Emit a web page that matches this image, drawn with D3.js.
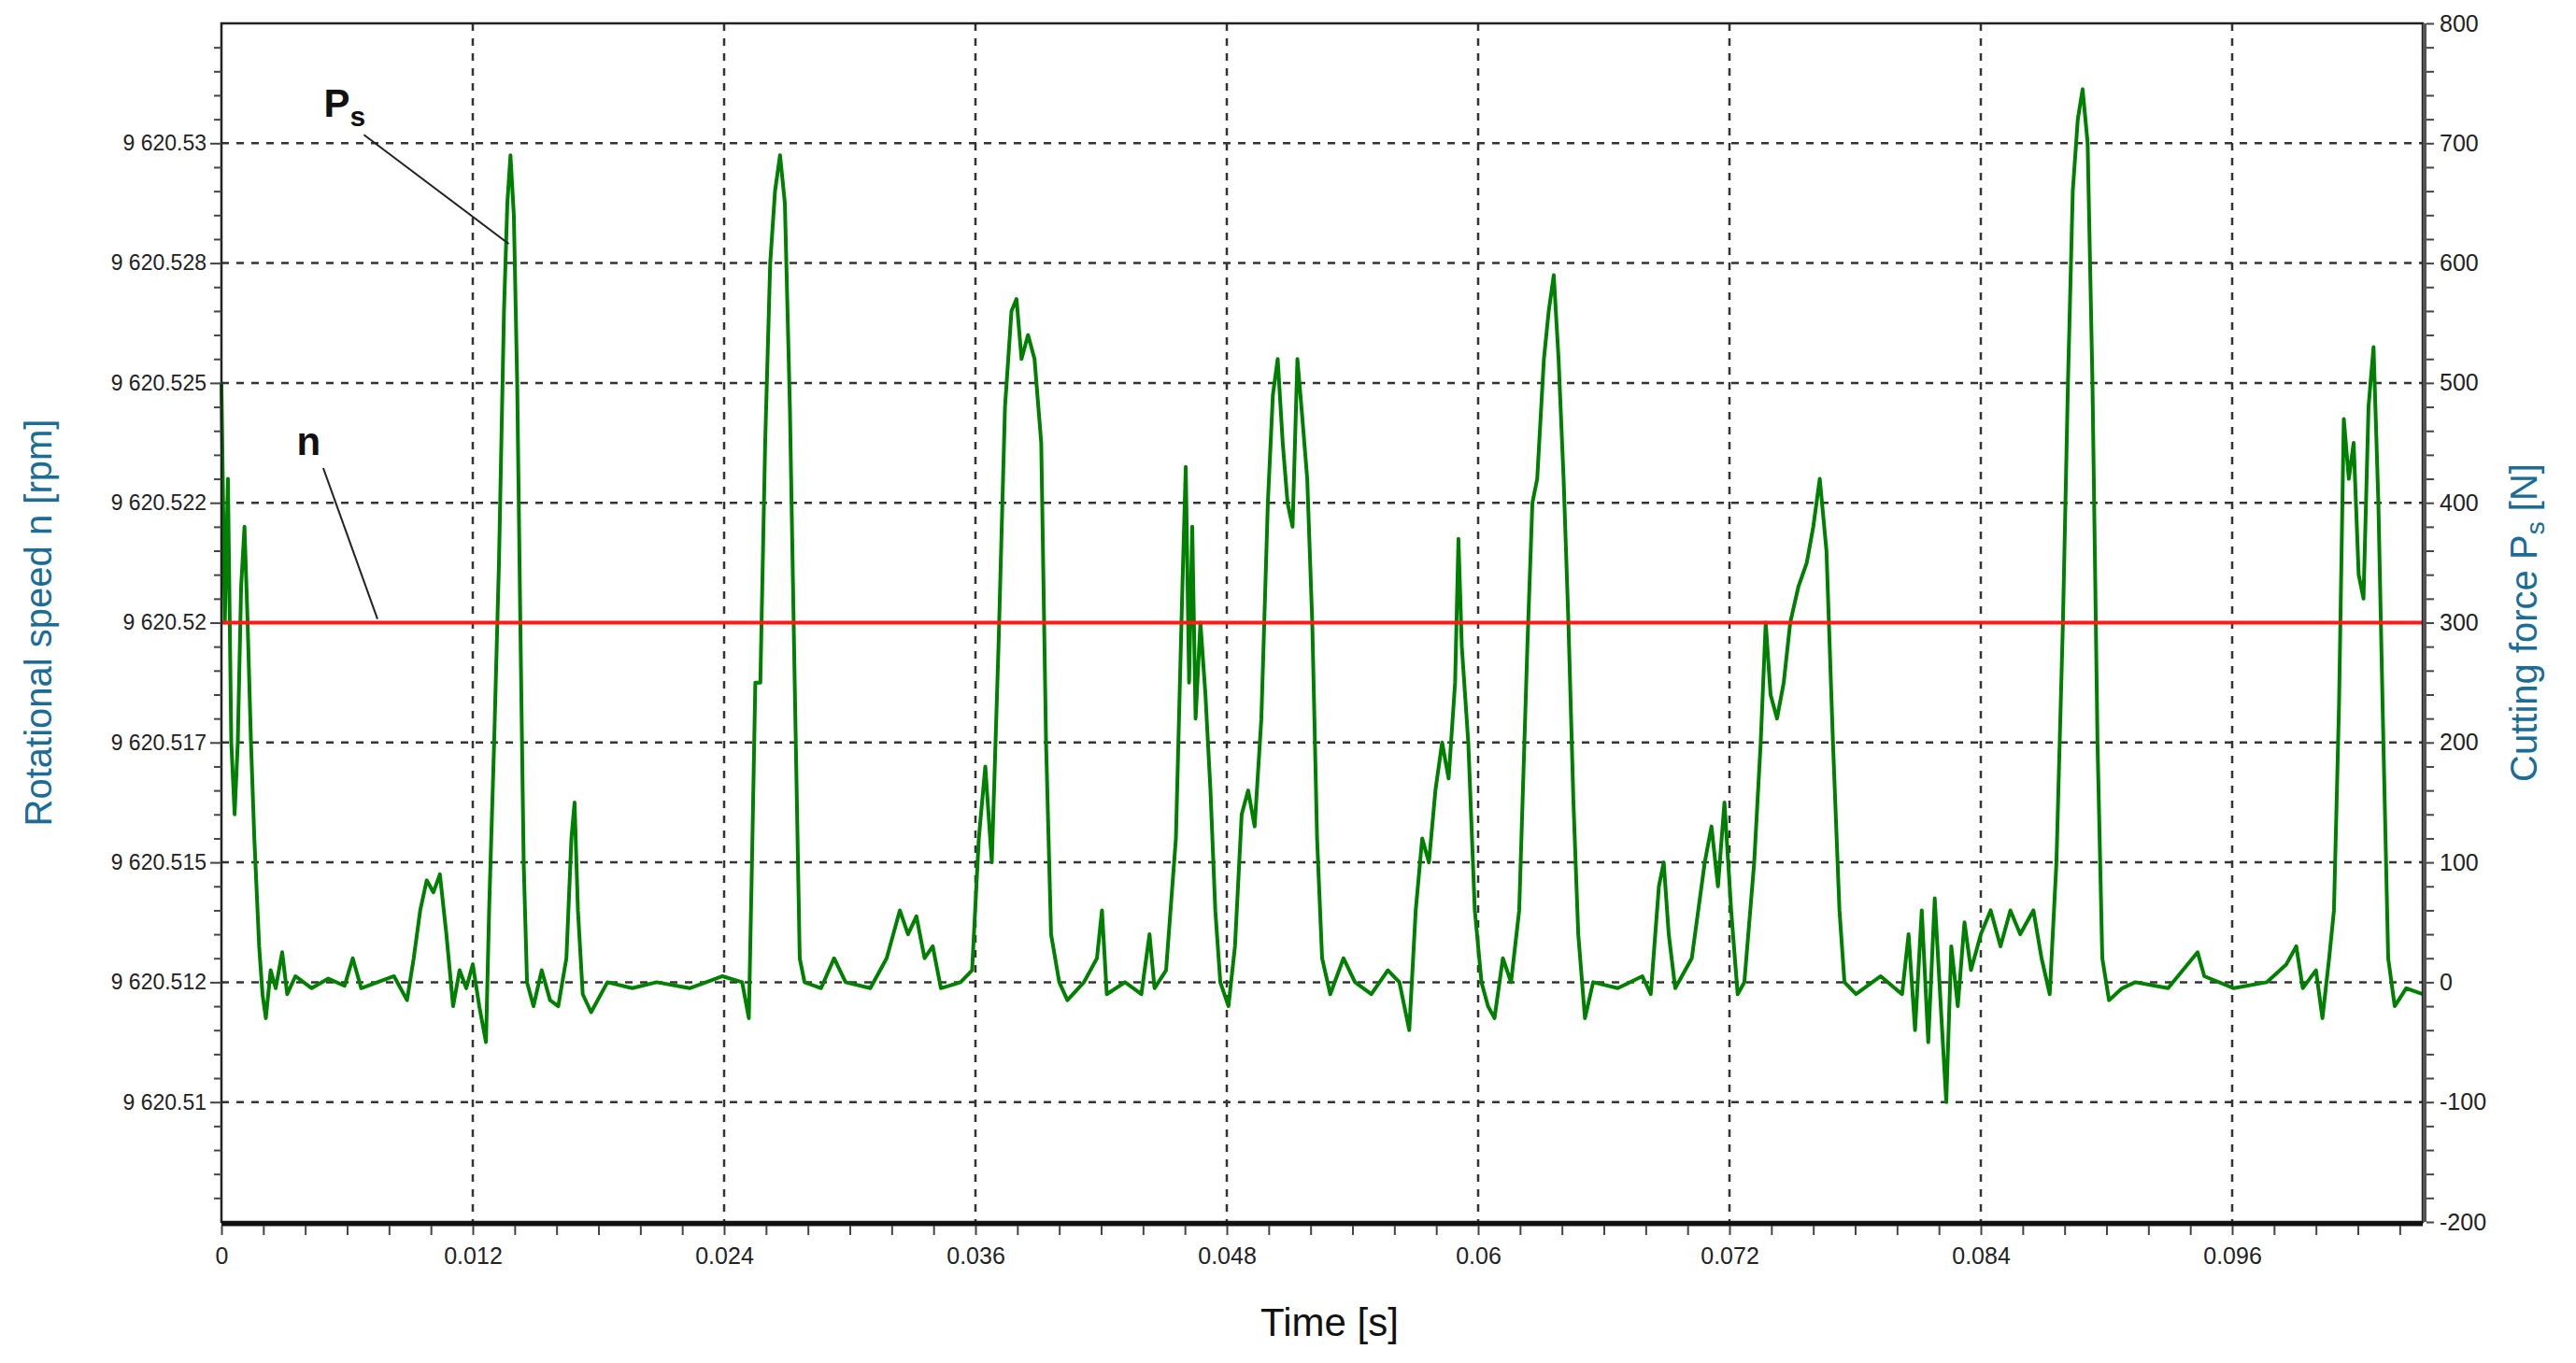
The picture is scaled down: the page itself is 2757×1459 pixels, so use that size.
<!DOCTYPE html>
<html><head><meta charset="utf-8">
<script src="https://cdn.jsdelivr.net/npm/d3@7"></script>
<style>body{margin:0;background:#fff}text{font-family:"Liberation Sans Narrow","Liberation Sans",Arial,sans-serif}</style>
</head><body><svg id="c" width="2757" height="1459"></svg>
<script>
const timeMs=[0,0.16,0.31,0.47,0.63,0.78,0.94,1.10,1.25,1.41,1.57,1.80,1.96,2.12,2.35,2.59,2.90,3.14,3.53,4.31,5.10,5.88,6.27,6.67,7.45,8.24,8.86,9.18,9.49,9.80,10.12,10.43,10.74,11.06,11.37,11.69,12.00,12.31,12.63,12.78,13.02,13.25,13.49,13.65,13.80,13.96,14.12,14.27,14.43,14.59,14.90,15.29,15.69,16.08,16.47,16.71,16.86,17.02,17.25,17.65,18.43,19.61,20.78,22.35,23.92,24.86,25.18,25.33,25.49,25.73,25.96,26.20,26.43,26.67,26.90,27.14,27.37,27.61,27.84,28.63,29.25,29.80,30.98,31.76,32.39,32.78,33.18,33.57,33.96,34.35,35.29,35.84,36.16,36.47,36.78,37.10,37.41,37.72,37.96,38.20,38.51,38.82,39.14,39.37,39.61,40.00,40.39,41.18,41.80,42.04,42.27,43.14,43.92,44.31,44.55,45.10,45.57,45.88,46.04,46.20,46.35,46.51,46.74,46.98,47.22,47.45,47.69,48.08,48.39,48.71,49.02,49.33,49.65,49.96,50.20,50.43,50.67,50.90,51.14,51.37,51.61,51.84,52.08,52.31,52.55,52.94,53.57,54.12,54.90,55.69,56.24,56.71,57.02,57.33,57.65,57.96,58.28,58.59,58.90,59.06,59.22,59.53,59.84,60.16,60.47,60.78,61.18,61.57,61.96,62.35,62.59,62.82,63.14,63.37,63.61,63.84,64.08,64.31,64.55,64.78,65.10,65.49,66.67,67.84,68.24,68.63,68.86,69.10,69.41,70.20,70.82,71.14,71.45,71.76,72.08,72.39,72.71,73.18,73.49,73.73,73.96,74.27,74.59,74.90,75.29,75.69,76.00,76.31,76.63,76.94,77.25,77.49,78.04,79.22,80.24,80.55,80.86,81.18,81.49,81.80,82.12,82.35,82.59,82.90,83.22,83.53,84.00,84.47,84.94,85.41,85.88,86.51,86.90,87.29,87.61,87.92,88.16,88.39,88.63,88.86,89.10,89.33,89.57,89.80,90.12,90.75,91.37,92.94,94.35,94.67,96.08,97.65,98.59,99.06,99.37,100.00,100.31,100.63,100.86,101.10,101.33,101.57,101.80,102.04,102.27,102.51,102.75,102.98,103.22,103.45,103.76,104.31,105.10];
const forceN=[500,300,420,200,140,200,330,380,300,200,120,30,-10,-30,10,-5,25,-10,5,-5,3,-3,20,-5,0,5,-15,20,60,85,75,90,40,-20,10,-5,15,-20,-50,60,200,350,560,650,690,640,500,300,100,0,-20,10,-15,-20,20,120,150,60,-10,-25,0,-5,0,-5,5,0,-30,100,250,250,450,600,660,690,650,480,250,20,0,-5,20,0,-5,20,60,40,55,20,30,-5,0,10,120,180,100,280,480,560,570,520,540,520,450,200,40,0,-15,0,20,60,-10,0,-10,40,-5,10,120,330,430,250,380,220,300,240,160,60,0,-20,30,140,160,130,220,400,490,520,450,400,380,520,470,420,300,120,20,-10,20,0,-10,10,0,-40,60,120,100,160,200,170,250,370,280,200,60,0,-20,-30,20,0,60,280,400,420,520,560,590,520,420,300,150,40,-30,0,-5,5,-10,80,100,40,-5,20,100,130,80,150,60,-10,0,100,200,300,240,220,250,300,330,350,380,420,360,200,60,0,-10,5,-10,40,-40,60,-50,70,-30,-100,30,-20,50,10,40,60,30,60,40,60,20,-10,100,300,500,660,720,745,700,500,200,20,-15,-5,0,-5,25,5,-5,0,15,30,-5,10,-30,20,60,230,470,420,450,340,320,480,530,400,200,20,-20,-5,-10];
const speedLevel=9620.52;
const forceTicks=[-200,-100,0,100,200,300,400,500,600,700,800];
const speedTickForce=[-100,0,100,200,300,400,500,600,700];
const speedTickLabels=["9 620.51","9 620.512","9 620.515","9 620.517","9 620.52","9 620.522","9 620.525","9 620.528","9 620.53"];
const timeTicks=[0,0.012,0.024,0.036,0.048,0.06,0.072,0.084,0.096];

const svg=d3.select("#c");
const L=237,R=2593,T=25,B=1308;
const x=d3.scaleLinear().domain([0,0.1051]).range([L,R]);
const y=d3.scaleLinear().domain([-200,800]).range([B,T]);
// speed axis: 9620.512 <-> 0 N, 9620.52 <-> 300 N
const ySpeed=d3.scaleLinear().domain([9620.512,9620.52]).range([y(0),y(300)]);

const g=svg.append("g");
// grid
g.selectAll(".hg").data(forceTicks.filter(v=>v>-200&&v<800)).join("line")
 .attr("x1",L).attr("x2",R).attr("y1",d=>y(d)).attr("y2",d=>y(d))
 .attr("stroke","#333").attr("stroke-width",2.5).attr("stroke-dasharray","8,8");
g.selectAll(".vg").data(timeTicks.filter(v=>v>0)).join("line")
 .attr("y1",T).attr("y2",B).attr("x1",d=>x(d)).attr("x2",d=>x(d))
 .attr("stroke","#333").attr("stroke-width",2.5).attr("stroke-dasharray","8,8");

// series
const pts=timeMs.map((t,i)=>[t/1000,forceN[i]]);
g.append("path").datum(pts).attr("fill","none").attr("stroke","#008000").attr("stroke-width",4)
 .attr("stroke-linejoin","round")
 .attr("d",d3.line().x(d=>x(d[0])).y(d=>y(d[1])));
g.append("line").attr("x1",L).attr("x2",R).attr("y1",ySpeed(speedLevel)).attr("y2",ySpeed(speedLevel))
 .attr("stroke","#ff1a1a").attr("stroke-width",4);

// frame
g.append("rect").attr("x",L).attr("y",T).attr("width",R-L).attr("height",B-T).attr("fill","none").attr("stroke","#222").attr("stroke-width",2.5);
g.append("line").attr("x1",L).attr("x2",R).attr("y1",B+2).attr("y2",B+2).attr("stroke","#111").attr("stroke-width",5);
g.append("line").attr("x1",R+2).attr("x2",R+2).attr("y1",T).attr("y2",B).attr("stroke","#555").attr("stroke-width",4);

// axes
const fmtIdx=v=>speedTickLabels[speedTickForce.indexOf(v)];
const ax=svg.append("g").attr("transform",`translate(0,${B+4})`).call(
 d3.axisBottom(x).tickValues(d3.range(0,0.1051,0.002)).tickSize(10).tickFormat(v=>{const i=timeTicks.findIndex(t=>Math.abs(t-v)<1e-9);return i>=0?String(timeTicks[i]):"";}));
ax.select(".domain").remove();
ax.selectAll("line").attr("stroke","#444").attr("stroke-width",2);
ax.selectAll("text").attr("font-size",25).attr("fill","#222").attr("dy","1.1em");

const al=svg.append("g").attr("transform",`translate(${L},0)`).call(
 d3.axisLeft(y).tickValues(d3.range(-180,800,20)).tickSize(8).tickFormat(v=>{const s=fmtIdx(Math.round(v));return s||"";}));
al.select(".domain").remove();
al.selectAll("line").attr("stroke","#444").attr("stroke-width",2);
al.selectAll(".tick").filter(d=>speedTickForce.includes(Math.round(d))).select("line").attr("x2",-12);
al.selectAll("text").attr("font-size",23).attr("fill","#222").attr("x",-16);

const ar=svg.append("g").attr("transform",`translate(${R+4},0)`).call(
 d3.axisRight(y).tickValues(d3.range(-200,801,20)).tickSize(8).tickFormat(v=>forceTicks.includes(Math.round(v))?String(Math.round(v)):""));
ar.select(".domain").remove();
ar.selectAll("line").attr("stroke","#444").attr("stroke-width",2);
ar.selectAll("text").attr("font-size",25).attr("fill","#222").attr("x",14);

// titles
svg.append("text").attr("x",L+(R-L)/2+8).attr("y",1430).attr("text-anchor","middle").attr("font-size",42).attr("fill","#111").text("Time [s]");
svg.append("text").attr("transform",`translate(55,${(T+B)/2}) rotate(-90)`).attr("text-anchor","middle").attr("font-size",40).attr("fill","#1b6c96").text("Rotational speed n [rpm]");
const rt=svg.append("text").attr("transform",`translate(2715,${(T+B)/2}) rotate(-90)`).attr("text-anchor","middle").attr("font-size",40).attr("fill","#1b6c96");
rt.append("tspan").text("Cutting force P");
rt.append("tspan").attr("font-size",28).attr("dy",8).text("s");
rt.append("tspan").attr("dy",-8).text(" [N]");

// annotations
const ps=svg.append("text").attr("x",x(0.00588)).attr("y",y(722)).attr("font-size",42).attr("font-weight","bold").attr("fill","#111").attr("text-anchor","middle");
ps.append("tspan").text("P");
ps.append("tspan").attr("font-size",30).attr("dy",10).text("s");
svg.append("line").attr("x1",x(0.0068)).attr("y1",y(707)).attr("x2",x(0.01372)).attr("y2",y(616)).attr("stroke","#222").attr("stroke-width",2);
svg.append("text").attr("x",x(0.00416)).attr("y",y(440)).attr("font-size",42).attr("font-weight","bold").attr("fill","#111").attr("text-anchor","middle").text("n");
svg.append("line").attr("x1",x(0.00486)).attr("y1",y(429)).attr("x2",x(0.00745)).attr("y2",y(303)).attr("stroke","#222").attr("stroke-width",2);
</script></body></html>
